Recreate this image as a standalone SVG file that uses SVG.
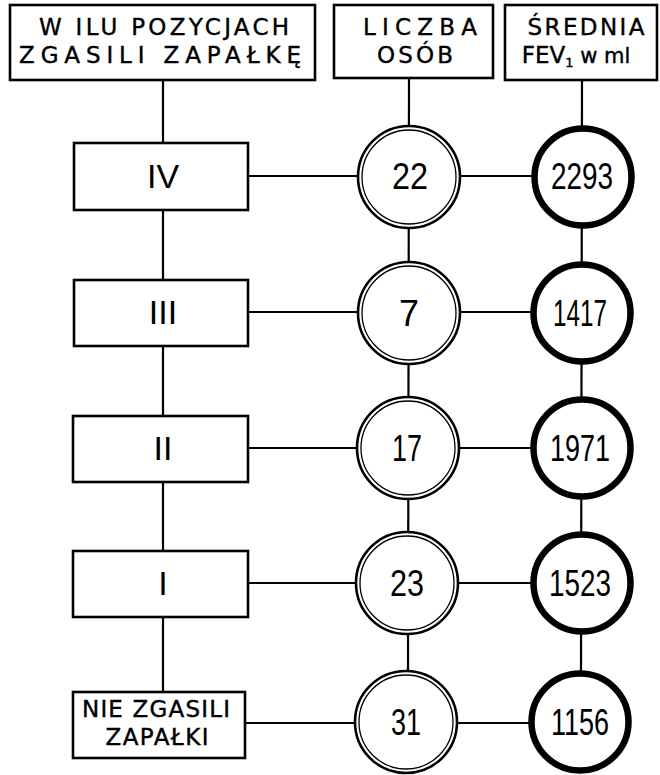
<svg xmlns="http://www.w3.org/2000/svg" width="660" height="775" viewBox="0 0 660 775">
<style>
.ln{stroke:#000;stroke-width:2.2;fill:none}
.box{fill:#fff;stroke:#000;stroke-width:2.6}
.hd{font-family:"DejaVu Sans","Liberation Sans",sans-serif;font-size:23px;text-anchor:middle;fill:#000;stroke:#000;stroke-width:0.4}
.rom{font-family:"Liberation Sans",sans-serif;font-size:34px;text-anchor:middle;fill:#000}
.num{font-family:"Liberation Sans",sans-serif;font-size:36px;text-anchor:middle;fill:#000}
.co{fill:#fff;stroke:#000;stroke-width:2.6}
.ci{fill:none;stroke:#000;stroke-width:1.3}
.ct{fill:#fff;stroke:#000;stroke-width:6.5}
</style>
<rect width="660" height="775" fill="#fff"/>
<g id="connectors">
<line class="ln" x1="163" y1="80" x2="163" y2="692"/>
<line class="ln" x1="409" y1="78" x2="408" y2="672"/>
<line class="ln" x1="582" y1="80" x2="581" y2="672"/>
<line class="ln" x1="248" y1="176" x2="582" y2="176"/>
<line class="ln" x1="248" y1="312" x2="582" y2="312"/>
<line class="ln" x1="248" y1="448" x2="582" y2="448"/>
<line class="ln" x1="248" y1="583" x2="582" y2="583"/>
<line class="ln" x1="245" y1="723" x2="580" y2="723"/>
</g>
<g id="h1"><rect class="box" x="10" y="5" width="305" height="75"/>
<text class="hd" x="164" y="35" textLength="250">W ILU POZYCJACH</text>
<text class="hd" x="160" y="63" textLength="282">ZGASILI ZAPAŁKĘ</text></g>
<g id="h2"><rect class="box" x="334" y="5" width="159" height="73"/>
<text class="hd" x="420" y="35" textLength="114">LICZBA</text>
<text class="hd" x="415" y="63" textLength="76">OSÓB</text></g>
<g id="h3"><rect class="box" x="505" y="5" width="152" height="75"/>
<text class="hd" x="586" y="35" textLength="117">ŚREDNIA</text>
<text class="hd" x="576" y="63">FEV<tspan font-size="13" dy="4">1</tspan><tspan dy="-4" font-size="21"> w ml</tspan></text></g>

<g id="r4"><rect class="box" x="74" y="143" width="174" height="67"/><text class="rom" x="163" y="188">IV</text></g>
<g id="r3"><rect class="box" x="74" y="280" width="174" height="66"/><text class="rom" x="163" y="324">III</text></g>
<g id="r2"><rect class="box" x="73" y="416" width="175" height="66"/><text class="rom" x="163" y="460">II</text></g>
<g id="r1"><rect class="box" x="73" y="551" width="175" height="66"/><text class="rom" x="163" y="595">I</text></g>
<g id="r0"><rect class="box" x="73" y="692" width="172" height="66"/>
<text class="hd" x="156" y="717" font-size="20" textLength="148">NIE ZGASILI</text>
<text class="hd" x="157" y="745" font-size="20" textLength="103">ZAPAŁKI</text></g>

<g id="n22"><circle class="co" cx="409" cy="177" r="51"/><circle class="ci" cx="409" cy="177" r="47"/><text class="num" x="410" y="189" textLength="36" lengthAdjust="spacingAndGlyphs">22</text></g>
<g id="n7"><circle class="co" cx="409" cy="313" r="51"/><circle class="ci" cx="409" cy="313" r="47"/><text class="num" x="409" y="326">7</text></g>
<g id="n17"><circle class="co" cx="408" cy="448" r="51"/><circle class="ci" cx="408" cy="448" r="47"/><text class="num" x="407" y="461" textLength="30" lengthAdjust="spacingAndGlyphs">17</text></g>
<g id="n23"><circle class="co" cx="407" cy="583" r="51"/><circle class="ci" cx="407" cy="583" r="47"/><text class="num" x="407" y="596" textLength="34" lengthAdjust="spacingAndGlyphs">23</text></g>
<g id="n31"><circle class="co" cx="406" cy="722" r="51"/><circle class="ci" cx="406" cy="722" r="47"/><text class="num" x="406" y="735" textLength="30" lengthAdjust="spacingAndGlyphs">31</text></g>

<g id="f2293"><circle class="ct" cx="583" cy="177" r="48.5"/><text class="num" x="582" y="189" textLength="62" lengthAdjust="spacingAndGlyphs">2293</text></g>
<g id="f1417"><circle class="ct" cx="582" cy="313" r="48.5"/><text class="num" x="580" y="326" textLength="54" lengthAdjust="spacingAndGlyphs">1417</text></g>
<g id="f1971"><circle class="ct" cx="582" cy="448" r="48.5"/><text class="num" x="580" y="461" textLength="60" lengthAdjust="spacingAndGlyphs">1971</text></g>
<g id="f1523"><circle class="ct" cx="582" cy="583" r="48.5"/><text class="num" x="580" y="596" textLength="62" lengthAdjust="spacingAndGlyphs">1523</text></g>
<g id="f1156"><circle class="ct" cx="580" cy="722" r="48.5"/><text class="num" x="580" y="735" textLength="58" lengthAdjust="spacingAndGlyphs">1156</text></g>
</svg>
